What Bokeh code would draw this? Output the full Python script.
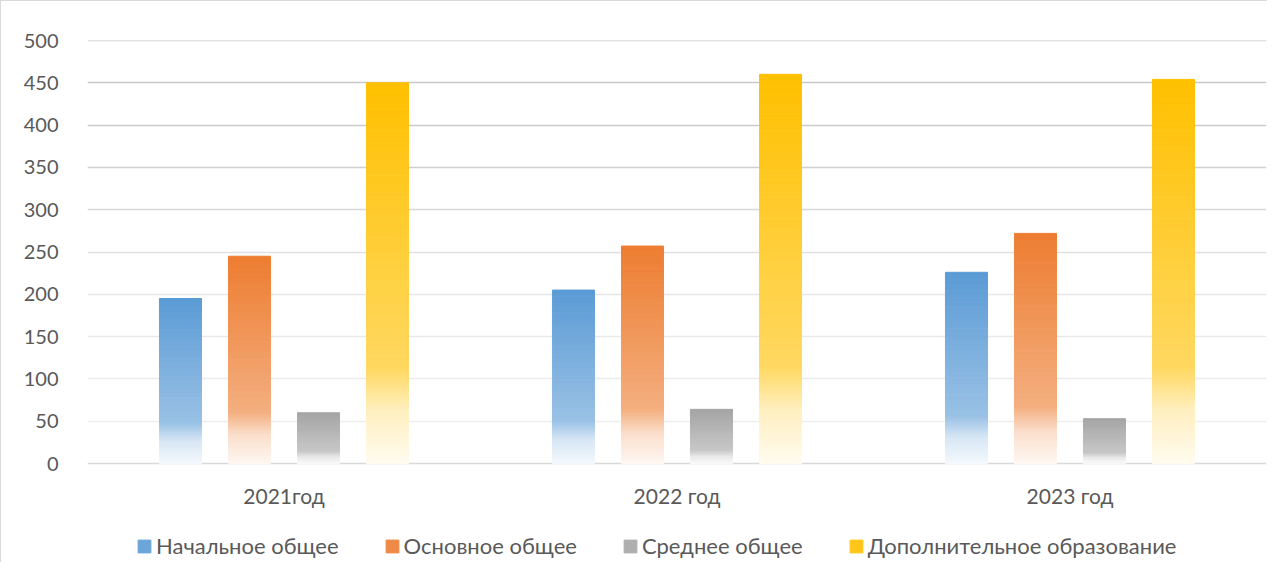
import numpy as np
from bokeh.plotting import figure
from bokeh.models import FixedTicker, Legend, LegendItem, Range1d
from bokeh.core.properties import value
from bokeh.embed import file_html
from bokeh.resources import INLINE

# ---- data ----
years = ["2021год", "2022 год", "2023 год"]
series_names = ["Начальное общее", "Основное общее", "Среднее общее", "Дополнительное образование"]
nachalnoe = [195, 205, 226]
osnovnoe = [245, 257, 272]
srednee = [60, 64, 53]
dopolnitelnoe = [450, 460, 454]
series_colors = ["#5B9BD5", "#ED7D31", "#A5A5A5", "#FFC000"]
y_ticks = [0, 50, 100, 150, 200, 250, 300, 350, 400, 450, 500]
grid_colors = ["#d9d9d9", "#eeeeee", "#ececec", "#e9e9e9", "#e6e6e6", "#e0e0e0",
               "#d8d8d8", "#d0d0d0", "#cbcbcb", "#c8c8c8", "#c6c6c6"]

all_values = [nachalnoe, osnovnoe, srednee, dopolnitelnoe]

FONT = "Lato"
TXT = "#595959"

# frame: 500 at y=39px, 0 at y=462px -> 0.846 px per unit; frame extends to figure bottom
PX_PER_UNIT = 423 / 500
H = 562
y_bottom = -(H - 462) / PX_PER_UNIT

p = figure(width=1267, height=H, output_backend="svg", toolbar_location=None,
           x_range=Range1d(-0.5, 2.5), y_range=Range1d(y_bottom, 500),
           min_border_left=86, min_border_right=2, min_border_top=39, min_border_bottom=0)
p.styles = {"border-left": "1px solid #d9d9d9", "border-top": "1px solid #d9d9d9"}
p.outline_line_color = None
p.background_fill_color = "white"
p.border_fill_color = "white"

# y axis
p.yaxis.ticker = FixedTicker(ticks=y_ticks)
p.yaxis.axis_line_color = None
p.yaxis.major_tick_line_color = None
p.yaxis.minor_tick_line_color = None
p.yaxis.major_label_text_font = FONT
p.yaxis.major_label_text_font_size = "20px"
p.yaxis.major_label_text_color = TXT
p.yaxis.major_label_standoff = 23
p.ygrid.grid_line_color = None
p.xgrid.grid_line_color = None
p.xaxis.visible = False

# gridlines with graded grey (and the category axis line at zero)
p.hspan(y=y_ticks, line_color=grid_colors, line_width=1.5)

# category labels
p.text(x=list(range(len(years))), y=[-37.8] * len(years), text=years,
       text_align="center", text_baseline="middle", text_font=value(FONT),
       text_font_size="21px", text_color=TXT)

# gradient bars built from thin slices
def mix(hexc, w):
    r, g, b = int(hexc[1:3], 16), int(hexc[3:5], 16), int(hexc[5:7], 16)
    r = round(r + (255 - r) * w); g = round(g + (255 - g) * w); b = round(b + (255 - b) * w)
    return "#%02x%02x%02x" % (r, g, b)

def whiten(t):
    return float(np.interp(t, [0.0, 0.75, 0.86, 1.0], [0.0, 0.38, 0.75, 0.94]))

BAR_W = 0.107
STEP = 0.1756
offsets = [-1.5 * STEP, -0.5 * STEP, 0.5 * STEP, 1.5 * STEP]

items = []
for si, (vals, col) in enumerate(zip(all_values, series_colors)):
    xs, bots, tops, cols = [], [], [], []
    top_idx = None
    for ci, v in enumerate(vals):
        n = max(int(v / 2), 10)
        for k in range(n):
            pos = 1 - (k + 0.5) / n
            xs.append(ci + offsets[si])
            bots.append(v * k / n)
            tops.append(v * (k + 1) / n)
            cols.append(mix(col, whiten(pos)))
        if top_idx is None:
            top_idx = len(xs) - 1 - n // 5
    r = p.vbar(x=xs, bottom=bots, top=tops, width=BAR_W, fill_color=cols, line_color=cols,
               line_width=1)
    items.append(LegendItem(label=series_names[si], renderers=[r], index=top_idx))

lg = Legend(items=items, location=(49, 4), orientation="horizontal", padding=0, margin=0,
            spacing=45, border_line_color=None, background_fill_alpha=0,
            glyph_width=16, glyph_height=16, label_height=20, label_standoff=4,
            label_text_font=FONT, label_text_font_size="22px", label_text_color=TXT)
p.add_layout(lg, "center")

open("out.html", "w").write(file_html(p, INLINE))
